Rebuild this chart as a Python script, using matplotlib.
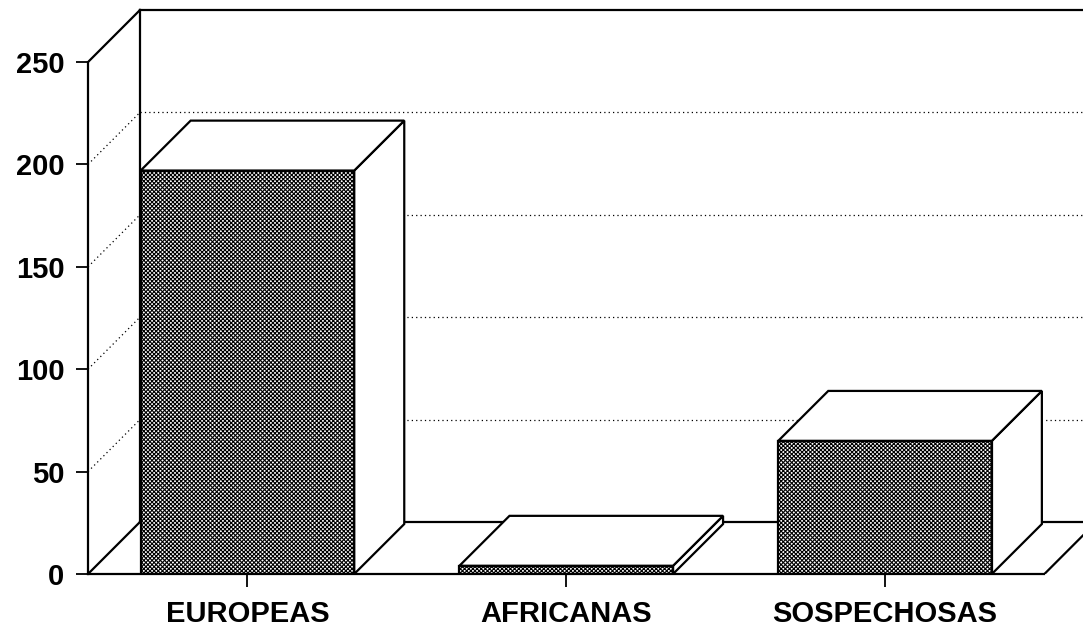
import matplotlib.pyplot as plt
from matplotlib.patches import Polygon, Rectangle

plt.rcParams['font.family'] = ['Liberation Sans', 'DejaVu Sans']
plt.rcParams['hatch.linewidth'] = 0.8

categories = ['EUROPEAS', 'AFRICANAS', 'SOSPECHOSAS']
values = [197, 4, 65]
yticks = [0, 50, 100, 150, 200, 250]

# pseudo 3d depth (data units)
DX, DY = 0.163, 25.4       # walls / floor
BDX, BDY = 0.157, 24.4     # bars
W = 0.67
LW = 1.6

fig = plt.figure(figsize=(10.83, 6.27), dpi=100)
ax = fig.add_axes([88 / 1083, 53 / 627, 995 / 1083, 574 / 627])
ax.set_xlim(-0.5, 2.621)
ax.set_ylim(0, 280.3)

x_left, x_right = -0.5, 2.5
ymax = yticks[-1]

# side wall + back wall
ax.plot([x_left, x_left + DX], [ymax, ymax + DY], color='black', lw=LW)
ax.plot([x_left, x_left + DX], [0, DY], color='black', lw=LW)
ax.plot([x_left + DX, x_left + DX], [DY, ymax + DY], color='black', lw=LW)
ax.plot([x_left + DX, 3.0], [ymax + DY, ymax + DY], color='black', lw=LW)
ax.plot([x_left + DX, 3.0], [DY, DY], color='black', lw=LW)
# floor right edge
ax.plot([x_right, x_right + DX], [0, DY], color='black', lw=LW)

# dotted gridlines
for t in yticks[1:-1]:
    ax.plot([x_left, x_left + DX], [t, t + DY], color='black', lw=0.9, ls=(0, (1, 2.5)))
    ax.plot([x_left + DX, 3.0], [t + DY, t + DY], color='black', lw=0.9, ls=(0, (1, 2.5)))

# bars
for i, v in enumerate(values):
    x0, x1 = i - W / 2, i + W / 2
    top = Polygon([(x0, v), (x0 + BDX, v + BDY), (x1 + BDX, v + BDY), (x1, v)],
                  closed=True, facecolor='white', edgecolor='black', lw=LW, zorder=3)
    side = Polygon([(x1, 0), (x1 + BDX, BDY), (x1 + BDX, v + BDY), (x1, v)],
                   closed=True, facecolor='white', edgecolor='black', lw=LW, zorder=3)
    front = Rectangle((x0, 0), W, v, facecolor='white', edgecolor='black',
                      hatch='x' * 8, lw=LW, zorder=4)
    ax.add_patch(side)
    ax.add_patch(top)
    ax.add_patch(front)

for s in ['top', 'right']:
    ax.spines[s].set_visible(False)
ax.spines['left'].set_bounds(0, ymax)
ax.spines['bottom'].set_bounds(x_left, x_right)
ax.spines['left'].set_linewidth(LW)
ax.spines['bottom'].set_linewidth(LW)
ax.spines['left'].set_zorder(5)
ax.spines['bottom'].set_zorder(5)

ax.set_yticks(yticks)
ax.set_yticklabels([str(t) for t in yticks], fontsize=21, fontweight='bold')
ax.set_xticks(range(len(categories)))
ax.set_xticklabels(categories, fontsize=21, fontweight='bold')
ax.tick_params(axis='y', length=9, width=1.3, pad=8)
ax.tick_params(axis='x', length=9, width=1.3, pad=10)

fig.savefig('out.png', dpi=100)
